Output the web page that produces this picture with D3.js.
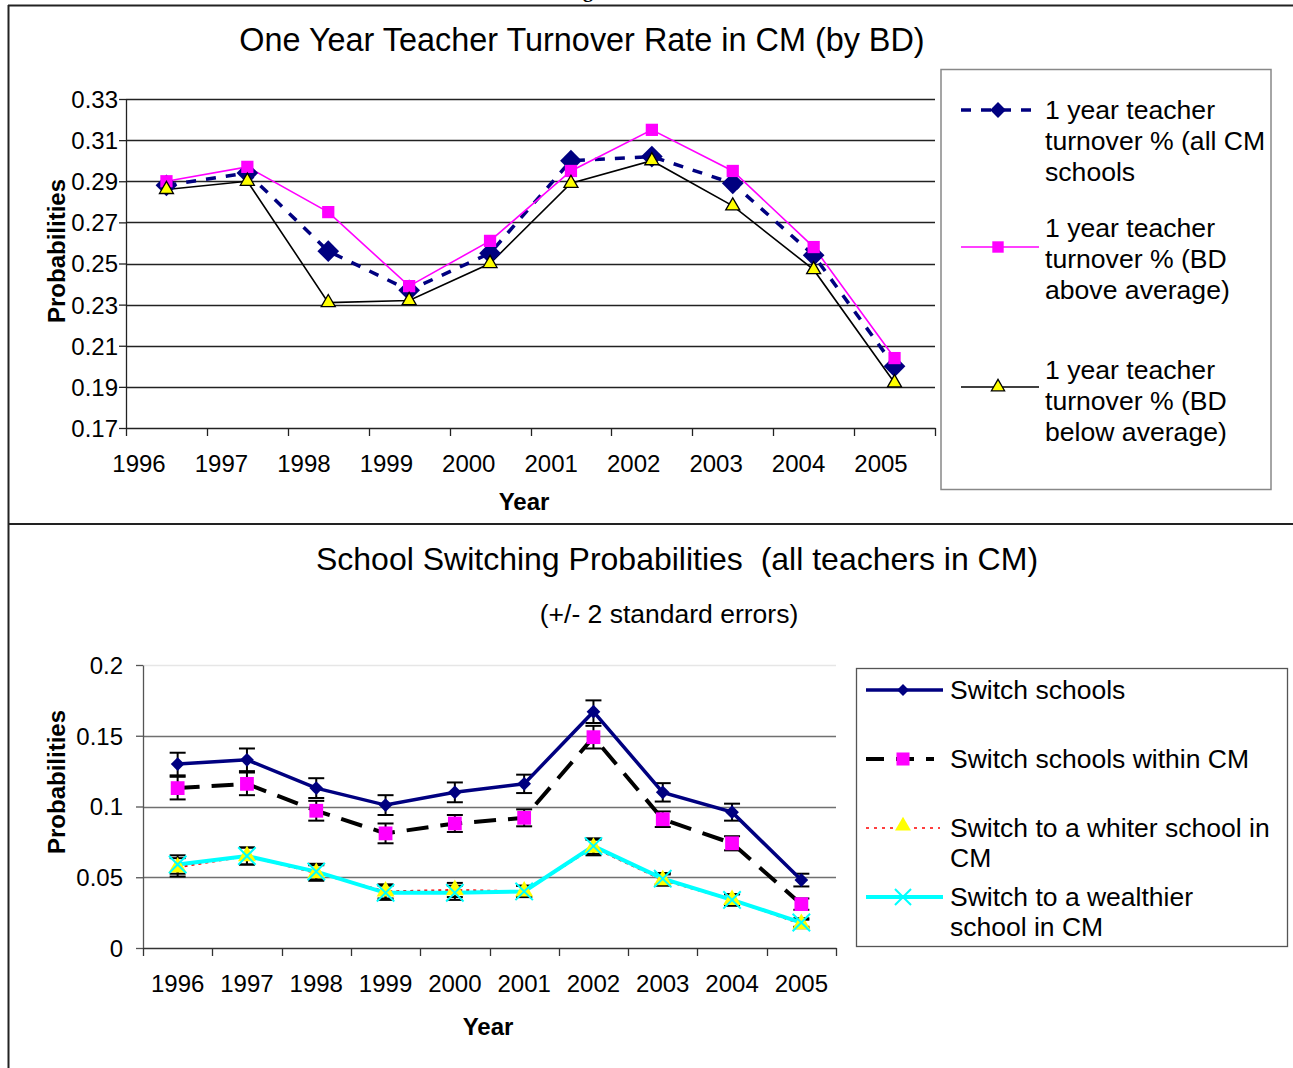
<!DOCTYPE html>
<html><head><meta charset="utf-8">
<script src="https://cdn.jsdelivr.net/npm/d3@7"></script>
<style>
html,body{margin:0;padding:0;background:#fff;}
svg{display:block;font-family:"Liberation Sans",Arial,sans-serif;}
</style></head>
<body>
<svg id="c" width="1293" height="1068"></svg>
<script>
// ---------- DATA ----------
const years = ["1996","1997","1998","1999","2000","2001","2002","2003","2004","2005"];
const topTicks = [0.17,0.19,0.21,0.23,0.25,0.27,0.29,0.31,0.33];
const turnoverAll   = [0.288,0.294,0.256,0.237,0.255,0.300,0.302,0.289,0.254,0.200];
const turnoverAbove = [0.290,0.297,0.275,0.239,0.261,0.295,0.315,0.295,0.258,0.204];
const turnoverBelow = [0.286,0.290,0.231,0.232,0.250,0.289,0.300,0.278,0.247,0.192];
const topLegend = [
  ["1 year teacher","turnover % (all CM","schools"],
  ["1 year teacher","turnover % (BD","above average)"],
  ["1 year teacher","turnover % (BD","below average)"]
];

const bottomTicks = [0,0.05,0.1,0.15,0.2];
const bottomTickLabels = ["0","0.05","0.1","0.15","0.2"];
const switchSchools = [0.130,0.133,0.113,0.101,0.110,0.116,0.167,0.110,0.096,0.048];
const switchSE      = [0.008,0.008,0.007,0.007,0.007,0.0065,0.008,0.0065,0.006,0.0045];
const switchWithin  = [0.113,0.116,0.097,0.081,0.088,0.092,0.149,0.091,0.074,0.031];
const withinSE      = [0.008,0.008,0.007,0.007,0.006,0.006,0.008,0.0055,0.005,0.004];
const switchWhiter  = [0.057,0.065,0.053,0.040,0.041,0.040,0.071,0.048,0.034,0.017];
const whiterSE      = [0.0065,0.006,0.0055,0.005,0.005,0.004,0.0055,0.004,0.004,0.003];
const switchWealthier=[0.059,0.065,0.054,0.039,0.039,0.040,0.072,0.049,0.034,0.018];
const wealthierSE   = [0.0065,0.006,0.0055,0.005,0.005,0.004,0.0055,0.004,0.004,0.003];
const bottomLegend = [
  ["Switch schools"],
  ["Switch schools within CM"],
  ["Switch to a whiter school in","CM"],
  ["Switch to a wealthier","school in CM"]
];

// ---------- DRAW ----------
const svg = d3.select("#c");
const F = '"Liberation Sans",Arial,sans-serif';

// page frame (descender of a caption above, cut by the page edge as in the source)
svg.append("text").attr("x",583).attr("y",-3).attr("font-family","Liberation Serif").attr("font-weight","bold").attr("font-size",20).text("g");
svg.append("line").attr("x1",8).attr("x2",1293).attr("y1",5.5).attr("y2",5.5).attr("stroke","#222").attr("stroke-width",2);
svg.append("line").attr("x1",8.5).attr("x2",8.5).attr("y1",5).attr("y2",1068).attr("stroke","#222").attr("stroke-width",2);
svg.append("line").attr("x1",8).attr("x2",1293).attr("y1",524).attr("y2",524).attr("stroke","#222").attr("stroke-width",2);

function marker(g, type, x, y, size, fill, stroke, sw){
  let sym;
  if(type==="diamond"){ sym = d3.symbol().type(d3.symbolDiamond2).size(size); }
  else if(type==="square"){ sym = d3.symbol().type(d3.symbolSquare).size(size); }
  else if(type==="triangle"){ sym = d3.symbol().type(d3.symbolTriangle).size(size); }
  else if(type==="x"){ sym = d3.symbol().type(d3.symbolTimes).size(size); }
  return g.append("path").attr("d",sym()).attr("transform",`translate(${x},${y})`)
    .attr("fill",fill).attr("stroke",stroke||"none").attr("stroke-width",sw||0);
}

// ===== TOP CHART =====
{
  const x = d3.scaleBand().domain(years).range([126,935]);
  const xl = d3.scalePoint().domain(years).range([139,881]);
  const y = d3.scaleLinear().domain([0.17,0.33]).range([428,99]);
  const g = svg.append("g");

  g.append("text").attr("x",582).attr("y",51).attr("text-anchor","middle").attr("font-size",32.4).attr("font-family",F)
   .text("One Year Teacher Turnover Rate in CM (by BD)");

  g.selectAll(".gr").data(topTicks.slice(1)).join("line")
   .attr("x1",126).attr("x2",935).attr("y1",d=>Math.round(y(d))+0.5).attr("y2",d=>Math.round(y(d))+0.5)
   .attr("stroke","#222").attr("stroke-width",1.3);

  const ya = d3.axisLeft(y).tickValues(topTicks).tickFormat(d3.format(".2f")).tickSize(7).tickSizeOuter(0);
  const yag = g.append("g").attr("transform","translate(126,0)").call(ya);
  yag.select(".domain").attr("stroke","#222").attr("stroke-width",1.3);
  yag.selectAll(".tick line").attr("stroke","#222").attr("stroke-width",1.3);
  yag.selectAll("text").attr("font-size",24).attr("font-family",F).attr("fill","#000").attr("x",-8).attr("dy","0.35em");

  const xa = d3.axisBottom(x).tickValues([]).tickSizeOuter(0);
  const xag = g.append("g").attr("transform","translate(0,428)").call(xa);
  xag.select(".domain").attr("stroke","#222").attr("stroke-width",1.3);
  const bounds = years.map(d=>x(d)).concat([935]);
  g.selectAll(".bt").data(bounds).join("line").attr("x1",d=>Math.round(d)+0.5).attr("x2",d=>Math.round(d)+0.5)
   .attr("y1",428).attr("y2",436).attr("stroke","#222").attr("stroke-width",1.3);
  g.selectAll(".xl").data(years).join("text").attr("x",d=>xl(d)).attr("y",472).attr("text-anchor","middle")
   .attr("font-size",24).attr("font-family",F).text(d=>d);

  g.append("text").attr("x",524).attr("y",510).attr("text-anchor","middle").attr("font-size",24).attr("font-weight","bold").attr("font-family",F).text("Year");
  g.append("text").attr("transform","translate(65,251) rotate(-90)").attr("text-anchor","middle").attr("font-size",24).attr("font-weight","bold").attr("font-family",F).text("Probabilities");

  const cx = d=>x(d)+x.bandwidth()/2;
  const line = d3.line().x((d,i)=>cx(years[i])).y(d=>y(d));

  g.append("path").datum(turnoverAll).attr("d",line).attr("fill","none").attr("stroke","#000080").attr("stroke-width",3.5).attr("stroke-dasharray","10,10");
  g.append("path").datum(turnoverAbove).attr("d",line).attr("fill","none").attr("stroke","#FF00FF").attr("stroke-width",1.6);
  g.append("path").datum(turnoverBelow).attr("d",line).attr("fill","none").attr("stroke","#000").attr("stroke-width",1.6);
  turnoverAll.forEach((v,i)=>marker(g,"diamond",cx(years[i]),y(v),300,"#000080"));
  turnoverAbove.forEach((v,i)=>marker(g,"square",cx(years[i]),y(v),150,"#FF00FF"));
  turnoverBelow.forEach((v,i)=>marker(g,"triangle",cx(years[i]),y(v),85,"#FFFF00","#000",1.3));

  // legend
  g.append("rect").attr("x",941).attr("y",69.5).attr("width",330).attr("height",420).attr("fill","#fff").attr("stroke","#888").attr("stroke-width",1.5);
  const ly = [110,247,387];
  const lg = g.append("g");
  lg.append("line").attr("x1",961).attr("x2",1039).attr("y1",ly[0]).attr("y2",ly[0]).attr("stroke","#000080").attr("stroke-width",3.5).attr("stroke-dasharray","10,10");
  marker(lg,"diamond",998,ly[0],160,"#000080");
  lg.append("line").attr("x1",961).attr("x2",1039).attr("y1",ly[1]).attr("y2",ly[1]).attr("stroke","#FF00FF").attr("stroke-width",1.6);
  marker(lg,"square",998,ly[1],130,"#FF00FF");
  lg.append("line").attr("x1",961).attr("x2",1039).attr("y1",ly[2]).attr("y2",ly[2]).attr("stroke","#000").attr("stroke-width",1.6);
  marker(lg,"triangle",998,ly[2],75,"#FFFF00","#000",1.3);
  const tb = [119,237,379];
  topLegend.forEach((lines,k)=>{
    lines.forEach((t,j)=>{
      lg.append("text").attr("x",1045).attr("y",tb[k]+j*31).attr("font-size",26.6).attr("font-family",F).text(t);
    });
  });
}

// ===== BOTTOM CHART =====
{
  const x = d3.scaleBand().domain(years).range([143,836]);
  const y = d3.scaleLinear().domain([0,0.2]).range([948,665]);
  const g = svg.append("g");

  g.append("text").attr("x",677).attr("y",570).attr("text-anchor","middle").attr("font-size",32).attr("font-family",F)
   .style("white-space","pre").text("School Switching Probabilities  (all teachers in CM)");
  g.append("text").attr("x",669).attr("y",623).attr("text-anchor","middle").attr("font-size",26.5).attr("font-family",F).text("(+/- 2 standard errors)");

  g.selectAll(".gr").data(bottomTicks.slice(1)).join("line")
   .attr("x1",143).attr("x2",836).attr("y1",d=>Math.round(y(d))+0.5).attr("y2",d=>Math.round(y(d))+0.5)
   .attr("stroke",d=>d===0.2?"#e6e6e6":"#707070").attr("stroke-width",1.5);

  const ya = d3.axisLeft(y).tickValues(bottomTicks).tickFormat((d,i)=>bottomTickLabels[i]).tickSize(7).tickSizeOuter(0);
  const yag = g.append("g").attr("transform","translate(143,0)").call(ya);
  yag.select(".domain").attr("stroke","#555").attr("stroke-width",1.3);
  yag.selectAll(".tick line").attr("stroke","#555").attr("stroke-width",1.3);
  yag.selectAll("text").attr("font-size",24).attr("font-family",F).attr("fill","#000").attr("x",-20).attr("dy","0.35em");

  const xa = d3.axisBottom(x).tickValues([]).tickSizeOuter(0);
  const xag = g.append("g").attr("transform","translate(0,948)").call(xa);
  xag.select(".domain").attr("stroke","#333").attr("stroke-width",1.3);
  const bounds = years.map(d=>x(d)).concat([836]);
  g.selectAll(".bt").data(bounds).join("line").attr("x1",d=>Math.round(d)+0.5).attr("x2",d=>Math.round(d)+0.5)
   .attr("y1",948).attr("y2",956).attr("stroke","#333").attr("stroke-width",1.3);
  const cx = d=>x(d)+x.bandwidth()/2;
  g.selectAll(".xl").data(years).join("text").attr("x",d=>cx(d)).attr("y",992).attr("text-anchor","middle")
   .attr("font-size",24).attr("font-family",F).text(d=>d);

  g.append("text").attr("x",488).attr("y",1035).attr("text-anchor","middle").attr("font-size",24).attr("font-weight","bold").attr("font-family",F).text("Year");
  g.append("text").attr("transform","translate(65,782) rotate(-90)").attr("text-anchor","middle").attr("font-size",24).attr("font-weight","bold").attr("font-family",F).text("Probabilities");

  const line = d3.line().x((d,i)=>cx(years[i])).y(d=>y(d));

  function errBars(vals, se){
    vals.forEach((v,i)=>{
      const px = cx(years[i]);
      const y1 = y(v+se[i]), y2 = y(v-se[i]);
      g.append("line").attr("x1",px).attr("x2",px).attr("y1",y1).attr("y2",y2).attr("stroke","#000").attr("stroke-width",2);
      g.append("line").attr("x1",px-8).attr("x2",px+8).attr("y1",y1).attr("y2",y1).attr("stroke","#000").attr("stroke-width",2);
      g.append("line").attr("x1",px-8).attr("x2",px+8).attr("y1",y2).attr("y2",y2).attr("stroke","#000").attr("stroke-width",2);
    });
  }
  errBars(switchSchools, switchSE);
  errBars(switchWithin, withinSE);
  errBars(switchWhiter, whiterSE);
  errBars(switchWealthier, wealthierSE);

  g.append("path").datum(switchWithin).attr("d",line).attr("fill","none").attr("stroke","#000").attr("stroke-width",4).attr("stroke-dasharray","22,12");
  g.append("path").datum(switchSchools).attr("d",line).attr("fill","none").attr("stroke","#000080").attr("stroke-width",3.5);
  g.append("path").datum(switchWhiter).attr("d",line).attr("fill","none").attr("stroke","#FF0000").attr("stroke-width",2).attr("stroke-dasharray","3,4");
  g.append("path").datum(switchWealthier).attr("d",line).attr("fill","none").attr("stroke","#00FFFF").attr("stroke-width",4);

  switchSchools.forEach((v,i)=>marker(g,"diamond",cx(years[i]),y(v),120,"#000080"));
  switchWithin.forEach((v,i)=>marker(g,"square",cx(years[i]),y(v),190,"#FF00FF"));
  switchWhiter.forEach((v,i)=>marker(g,"triangle",cx(years[i]),y(v),140,"#FFFF00"));
  switchWealthier.forEach((v,i)=>marker(g,"x",cx(years[i]),y(v),200,"none","#00FFFF",2));

  // legend
  g.append("rect").attr("x",856.5).attr("y",668.5).attr("width",431).attr("height",278).attr("fill","#fff").attr("stroke","#555").attr("stroke-width",1.3);
  const lg = g.append("g");
  const ly = [690,759,828,897];
  lg.append("line").attr("x1",866).attr("x2",943).attr("y1",ly[0]).attr("y2",ly[0]).attr("stroke","#000080").attr("stroke-width",3.5);
  marker(lg,"diamond",903,ly[0],90,"#000080");
  lg.append("line").attr("x1",866).attr("x2",934).attr("y1",ly[1]).attr("y2",ly[1]).attr("stroke","#000").attr("stroke-width",4).attr("stroke-dasharray","18,12");
  marker(lg,"square",903,ly[1],170,"#FF00FF");
  lg.append("line").attr("x1",866).attr("x2",940).attr("y1",ly[2]).attr("y2",ly[2]).attr("stroke","#FF0000").attr("stroke-width",1.6).attr("stroke-dasharray","3,5");
  marker(lg,"triangle",903,ly[2]-2,110,"#FFFF00");
  lg.append("line").attr("x1",866).attr("x2",943).attr("y1",ly[3]).attr("y2",ly[3]).attr("stroke","#00FFFF").attr("stroke-width",4);
  marker(lg,"x",903,ly[3],170,"none","#00FFFF",2);
  const tb = [699,768,837,906];
  bottomLegend.forEach((lines,k)=>{
    lines.forEach((t,j)=>{
      lg.append("text").attr("x",950).attr("y",tb[k]+j*30).attr("font-size",26.5).attr("font-family",F).text(t);
    });
  });
}
</script>
</body></html>
